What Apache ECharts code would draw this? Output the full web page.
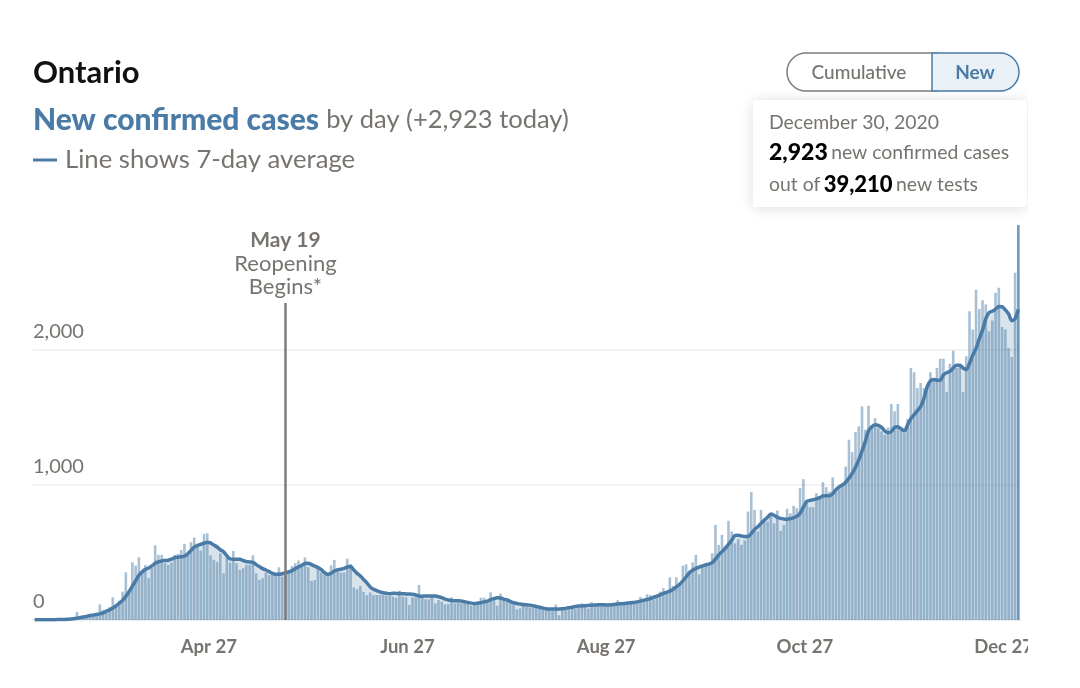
<!DOCTYPE html>
<html>
<head>
<meta charset="utf-8">
<title>Ontario</title>
<script src="https://cdn.jsdelivr.net/npm/echarts@6/dist/echarts.min.js"></script>
<style>
html,body{margin:0;padding:0;background:#fff;}
#main{width:1028px;height:688px;}
</style>
</head>
<body>
<div id="main"></div>
<script>
// daily new cases, Mar 3 to Dec 30 2020
var newCases = [
1,1,1,1,2,3,2,4,3,6,
8,10,12,60,20,25,32,30,38,28,
116,75,80,95,168,118,143,210,353,222,
427,403,464,358,408,309,383,553,482,482,
420,408,425,482,489,519,563,489,576,610,
548,514,637,642,479,445,430,494,346,462,
425,511,420,370,383,408,408,479,346,296,
309,351,333,333,333,390,321,346,370,400,
420,440,400,462,390,289,296,383,351,333,
341,405,445,370,351,351,454,415,242,227,
252,207,183,203,185,185,185,185,180,178,
173,165,217,173,168,111,168,168,259,168,
153,153,173,123,148,136,116,119,168,123,
128,123,123,123,106,116,123,165,165,131,
205,153,106,195,148,141,123,116,79,86,
116,99,94,91,91,99,91,86,74,69,
114,35,79,74,79,104,81,89,123,99,
84,131,104,111,116,106,99,111,114,146,
116,119,121,126,131,136,170,146,190,185,
153,168,210,235,203,316,252,316,272,403,
412,366,427,482,338,400,403,408,494,704,
556,630,548,734,655,568,598,556,588,803,
946,815,655,815,753,729,771,716,810,659,
704,823,790,845,827,976,1042,865,835,835,
939,914,1020,983,951,1055,963,976,1013,1136,
1334,1242,1391,1433,1581,1408,1586,1420,1494,1420,
1396,1371,1425,1598,1544,1598,1420,1383,1487,1865,
1833,1717,1754,1717,1717,1833,1778,1865,1934,1934,
1687,1897,1993,1865,1890,1687,1951,2285,2149,2443,
2302,2366,2334,2137,2216,2421,2458,2169,2149,2013,
1946,2569,2923
];
// 7-day average line
var avgCases = [
1,1,1,1,2,2,2,3,3,4,
5,7,9,13,18,22,27,33,36,40,
45,52,65,75,88,105,125,145,175,210,
250,290,330,355,375,385,400,420,430,437,
440,442,450,462,465,468,472,490,515,540,
552,560,568,575,570,555,540,520,505,475,
452,450,450,450,440,432,430,427,410,395,
380,370,358,345,338,338,342,350,356,365,
380,392,405,418,420,410,398,388,372,350,
338,345,362,372,375,382,392,395,370,345,
325,300,275,245,228,218,208,202,198,195,
198,197,196,195,193,192,190,185,178,176,
178,178,178,177,172,165,155,148,145,143,
142,140,135,130,125,123,125,128,134,140,
150,158,165,163,155,148,138,128,122,118,
114,112,110,106,100,94,88,84,82,81,
81,81,83,86,90,95,100,103,104,106,
108,110,111,112,113,112,111,112,115,118,
120,122,125,128,130,134,140,146,152,158,
168,176,186,196,205,214,228,245,265,290,
318,350,368,382,392,400,408,414,425,450,
482,505,530,560,590,625,628,622,617,618,
640,670,690,715,738,760,785,775,760,752,
748,746,750,758,768,790,835,877,885,890,
896,905,918,920,919,935,965,985,1000,1020,
1050,1085,1130,1186,1250,1320,1400,1430,1445,1440,
1425,1400,1385,1395,1425,1430,1415,1400,1445,1490,
1520,1550,1580,1640,1725,1770,1780,1775,1775,1815,
1830,1840,1865,1885,1885,1865,1853,1900,1960,2010,
2080,2145,2230,2275,2285,2300,2320,2318,2295,2265,
2215,2230,2300
];
var monthNames = ['Mar','Apr','May','Jun','Jul','Aug','Sep','Oct','Nov','Dec'];
var monthDays = [31,30,31,30,31,31,30,31,30,30];
var tickLabels = ['Apr 27','Jun 27','Aug 27','Oct 27','Dec 27'];
var yTicks = [0,1000,2000];

var categories = [];
monthNames.forEach(function(m,k){
  for(var d=(k==0?3:1);d<=monthDays[k];d++) categories.push(m+' '+d);
});

var blue = '#4a7ba6', grey = '#77736f', font = 'Lato';
var barData = newCases.map(function(v,i){
  if(i==newCases.length-1) return {value:v,itemStyle:{color:'#6f9bbd'}};
  return v;
});

var chart = echarts.init(document.getElementById('main'));
chart.setOption({
  animation:false,
  backgroundColor:'#fff',
  textStyle:{fontFamily:font},
  grid:{left:33,top:225,width:987,height:395,containLabel:false,outerBoundsMode:'none'},
  xAxis:{
    type:'category',
    data:categories,
    axisLine:{lineStyle:{color:'#eeeeee',width:2}},
    axisTick:{show:false},
    axisLabel:{
      color:grey,fontSize:18.5,fontWeight:'bold',fontFamily:font,margin:18,padding:[0,10,0,0],
      interval:function(i,v){return tickLabels.indexOf(v)>=0;}
    }
  },
  yAxis:{
    type:'value',
    min:0,
    max:2923,
    axisLine:{show:false},
    axisTick:{show:false,customValues:yTicks},
    splitLine:{lineStyle:{color:'#eeeeee',width:1.5}},
    axisLabel:{
      inside:true,margin:0,color:grey,fontSize:20,fontFamily:font,verticalAlign:'bottom',
      padding:[0,0,8,0],customValues:yTicks,
      formatter:function(v){return v.toLocaleString('en-US');}
    }
  },
  series:[
    {
      name:'New cases',
      type:'bar',
      data:barData,
      barCategoryGap:'20%',
      itemStyle:{color:'rgba(74,123,166,0.48)'},
      silent:true
    },
    {
      name:'7-day average',
      type:'line',
      data:avgCases,
      smooth:0.3,
      symbol:'none',
      lineStyle:{color:blue,width:3.5},
      areaStyle:{color:'rgba(74,123,166,0.3)'},
      silent:true,
      markLine:{
        silent:true,
        symbol:'none',
        animation:false,
        lineStyle:{color:'#7d7d7d',width:2.5,type:'solid'},
        label:{
          position:'end',
          distance:5,
          fontFamily:font,
          color:grey,
          fontSize:22,
          lineHeight:23,
          align:'center',
          formatter:'{b|May 19}\nReopening\nBegins*',
          rich:{b:{fontWeight:'bold',fontSize:21,lineHeight:23,color:grey,fontFamily:font}}
        },
        data:[[{xAxis:'May 19',yAxis:0},{xAxis:'May 19',yAxis:2346}]]
      }
    }
  ],
  graphic:[
    {type:'text',x:33,y:73,style:{text:'Ontario',fontSize:31,fontWeight:'bold',fontFamily:font,fill:'#111111',verticalAlign:'middle'}},
    {type:'text',x:33,y:120,style:{
      text:'{a|New confirmed cases}{b|by day (+2,923 today)}',verticalAlign:'middle',
      rich:{
        a:{fontSize:30,fontWeight:900,fontFamily:font,fill:blue,color:blue},
        b:{fontSize:25.5,fontFamily:font,fill:grey,color:grey,padding:[0,0,0,7]}
      }
    }},
    {type:'line',shape:{x1:33,y1:160,x2:57,y2:160},style:{stroke:blue,lineWidth:3}},
    {type:'text',x:65,y:160,style:{text:'Line shows 7-day average',fontSize:25.7,fontFamily:font,fill:grey,verticalAlign:'middle'}},

    {type:'rect',shape:{x:787,y:53,width:150,height:38,r:[19,0,0,19]},style:{fill:'#fff',stroke:'#7d7d7d',lineWidth:1.5}},
    {type:'rect',shape:{x:932,y:53,width:87,height:38,r:[0,19,19,0]},style:{fill:'#e9f0f6',stroke:blue,lineWidth:1.5}},
    {type:'text',x:859,y:73,style:{text:'Cumulative',fontSize:19,fontWeight:500,fontFamily:font,fill:grey,align:'center',verticalAlign:'middle'}},
    {type:'text',x:975,y:73,style:{text:'New',fontSize:19,fontWeight:'bold',fontFamily:font,fill:blue,align:'center',verticalAlign:'middle'}},

    {type:'rect',z:20,shape:{x:753,y:100,width:274,height:107,r:3},style:{fill:'#fff',shadowBlur:14,shadowColor:'rgba(0,0,0,0.14)',shadowOffsetY:1}},
    {type:'text',z:21,x:769,y:123,style:{text:'December 30, 2020',fontSize:19.4,fontFamily:font,fill:grey,verticalAlign:'middle'}},
    {type:'text',z:21,x:769,y:153,style:{
      text:'{a|2,923} {b|new confirmed cases}',verticalAlign:'middle',
      rich:{
        a:{fontSize:23,fontWeight:900,fontFamily:font,fill:'#000',color:'#000'},
        b:{fontSize:19.4,fontFamily:font,fill:grey,color:grey}
      }
    }},
    {type:'text',z:21,x:769,y:185,style:{
      text:'{b|out of} {a|39,210} {b|new tests}',verticalAlign:'middle',
      rich:{
        a:{fontSize:22,fontWeight:900,fontFamily:font,fill:'#000',color:'#000'},
        b:{fontSize:19.4,fontFamily:font,fill:grey,color:grey}
      }
    }}
  ]
});
</script>
</body>
</html>
